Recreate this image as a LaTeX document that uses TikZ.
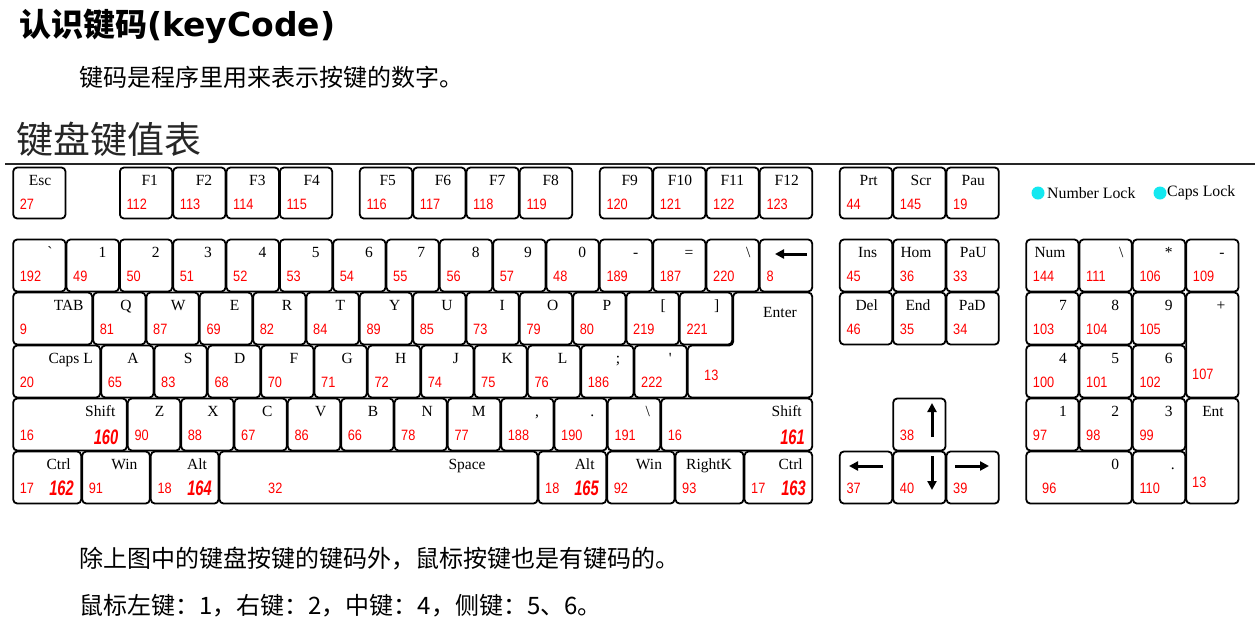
\documentclass[tikz,border=0pt]{standalone}
\usepackage{fontspec}
\setmainfont{Liberation Serif}
\newfontfamily\rawserif{Liberation Serif}
\newfontfamily\codefont[FakeStretch=0.85]{Liberation Sans}
\newfontfamily\boldcode[FakeStretch=0.7]{Liberation Sans}
\newfontfamily\cjk{Noto Sans CJK SC}
\newfontfamily\latb{DejaVu Sans}
\usetikzlibrary{arrows.meta}
\definecolor{ledcyan}{RGB}{20,232,240}
\tikzset{
  keybox/.style={draw=black, line width=1.8pt, rounded corners=4pt, fill=white, inner sep=0pt},
  klabel/.style={inner sep=0pt, text height=10.5pt, text depth=0pt, font=\fontsize{15.5}{16}\selectfont},
  kcode/.style={anchor=west, inner sep=0pt, text height=10.5pt, text depth=0pt, text=red, font=\codefont\fontsize{15}{16}\selectfont},
  kbold/.style={anchor=east, inner sep=0pt, text height=15pt, text depth=0pt, text=red, font=\boldcode\bfseries\itshape\fontsize{21}{22}\selectfont},
  karrow/.style={line width=3pt, -{Triangle[length=9pt, width=9pt]}},
  cjktext/.style={anchor=west, inner sep=0pt, font=\cjk\fontsize{24}{28}\selectfont},
}
% #1 label offset from right edge, #2 name, #3 x1, #4 y1, #5 x2, #6 y2, #7 label, #8 code
\newcommand\kbkey[8][19]{%
  \node[keybox, minimum width={#5-#3-1}, minimum height={#6-#4-1}] (#2) at ({(#3+#5)/2},{(#4+#6)/2}) {};
  \node[klabel] (#2l) at ({#5-#1},{#4+13}) {#7};
  \node[kcode] (#2c) at ({#3+7},{#4+37}) {#8};
}
\begin{document}
\begin{tikzpicture}[x=1pt,y=-1pt]
\useasboundingbox (0,0) rectangle (1255,625);
\fill[white] (0,0) rectangle (1255,625);

% headings
\node[anchor=west, inner sep=0pt, font=\cjk\bfseries\fontsize{32}{36}\selectfont] (title) at (19,26) {认识键码{\latb\bfseries\fontsize{33}{36}\selectfont(keyCode)}};
\node[cjktext] (sub) at (79,77) {键码是程序里用来表示按键的数字。};
\node[anchor=west, inner sep=0pt, font=\cjk\fontsize{37}{40}\selectfont, text=black!85] (head) at (16,139) {键盘键值表};
\coordinate (ruleL) at (5,164);
\coordinate (ruleR) at (1255,164);
\draw[line width=2.5pt, black!85] (ruleL) -- (ruleR);

% function row
\kbkey[26]{esc}{12.7}{167}{66}{219}{Esc}{27}
\kbkey[23]{fa}{119.4}{167}{172.7}{219}{F1}{112}
\kbkey[22]{fb}{172.7}{167}{226}{219}{F2}{113}
\kbkey[22]{fc}{226}{167}{279.4}{219}{F3}{114}
\kbkey[21]{fd}{279.4}{167}{332.7}{219}{F4}{115}
\kbkey[25]{fe}{359.3}{167}{412.7}{219}{F5}{116}
\kbkey[23]{ff}{412.7}{167}{466}{219}{F6}{117}
\kbkey[22]{fg}{466}{167}{519.3}{219}{F7}{118}
\kbkey[22]{fh}{519.3}{167}{572.7}{219}{F8}{119}
\kbkey[23]{fi}{599.3}{167}{652.7}{219}{F9}{120}
\kbkey[26]{fj}{652.7}{167}{706}{219}{F10}{121}
\kbkey[27]{fk}{706}{167}{759.3}{219}{F11}{122}
\kbkey[26]{fl}{759.3}{167}{812.7}{219}{F12}{123}
\kbkey[24]{prt}{839.3}{167}{892.7}{219}{Prt}{44}
\kbkey[25]{scr}{892.7}{167}{946}{219}{Scr}{145}
\kbkey[26]{pau}{946}{167}{999.3}{219}{Pau}{19}

% indicators
\node[circle, fill=ledcyan, inner sep=0pt, minimum size=13pt] (numled) at (1038,193) {};
\node[anchor=west, inner sep=0pt, font=\fontsize{15.8}{16}\selectfont] (numledt) at (1047,193) {Number Lock};
\node[circle, fill=ledcyan, inner sep=0pt, minimum size=13pt] (capled) at (1160,193) {};
\node[anchor=west, inner sep=0pt, font=\fontsize{15.8}{16}\selectfont] (capledt) at (1167,193) {Caps Lock};

% number row
\kbkey[16]{grave}{12.7}{239}{66}{292}{{\rawserif `}}{192}
\kbkey[17]{na}{66}{239}{119.4}{292}{1}{49}
\kbkey[17]{nb}{119.4}{239}{172.7}{292}{2}{50}
\kbkey[18]{nc}{172.7}{239}{226}{292}{3}{51}
\kbkey[17]{nd}{226}{239}{279.4}{292}{4}{52}
\kbkey[17]{ne}{279.4}{239}{332.7}{292}{5}{53}
\kbkey[17]{nf}{332.7}{239}{386}{292}{6}{54}
\kbkey[18]{ng}{386}{239}{439.3}{292}{7}{55}
\kbkey[17]{nh}{439.3}{239}{492.7}{292}{8}{56}
\kbkey[18]{ni}{492.7}{239}{546}{292}{9}{57}
\kbkey[17]{nj}{546}{239}{599.3}{292}{0}{48}
\kbkey[17]{minus}{599.3}{239}{652.7}{292}{-}{189}
\kbkey[17]{equal}{652.7}{239}{706}{292}{=}{187}
\kbkey[11]{bslash}{706}{239}{759.3}{292}{\textbackslash}{220}
\kbkey{bksp}{759.3}{239}{812.7}{292}{}{8}
\coordinate (bkspA) at (807,254);
\coordinate (bkspB) at (775,254);
\draw[karrow] (bkspA) -- (bkspB);

% tab row
\kbkey[24]{tab}{12.7}{292}{92.7}{345}{TAB}{9}
\kbkey[20]{q}{92.7}{292}{146}{345}{Q}{81}
\kbkey[21]{w}{146}{292}{199.3}{345}{W}{87}
\kbkey[18]{e}{199.3}{292}{252.7}{345}{E}{69}
\kbkey[19]{r}{252.7}{292}{306}{345}{R}{82}
\kbkey[19]{t}{306}{292}{359.3}{345}{T}{84}
\kbkey[18]{y}{359.3}{292}{412.7}{345}{Y}{89}
\kbkey[19]{u}{412.7}{292}{466}{345}{U}{85}
\kbkey[17]{i}{466}{292}{519.3}{345}{I}{73}
\kbkey[20]{o}{519.3}{292}{572.7}{345}{O}{79}
\kbkey[19]{p}{572.7}{292}{626}{345}{P}{80}
\kbkey[16]{lbr}{626}{292}{679.3}{345}{[}{219}
\kbkey[16]{rbr}{679.3}{292}{732.7}{345}{]}{221}
\draw[keybox] (733.2,292.5) -- (812.2,292.5) -- (812.2,397.5) -- (687.8,397.5) -- (687.8,345.5) -- (733.2,345.5) -- cycle;
\node[klabel] (enterl) at (780,312) {Enter};
\node[kcode] (enterc) at (704,375) {13};

% caps row
\kbkey[30]{caps}{12.7}{345}{100.7}{398}{Caps L}{20}
\kbkey[21]{a}{100.7}{345}{154}{398}{A}{65}
\kbkey[19]{s}{154}{345}{207.3}{398}{S}{83}
\kbkey[21]{d}{207.3}{345}{260.7}{398}{D}{68}
\kbkey[20]{f}{260.7}{345}{314}{398}{F}{70}
\kbkey[20]{g}{314}{345}{367.3}{398}{G}{71}
\kbkey[20]{h}{367.3}{345}{420.7}{398}{H}{72}
\kbkey[18]{j}{420.7}{345}{474}{398}{J}{74}
\kbkey[20]{k}{474}{345}{527.3}{398}{K}{75}
\kbkey[18]{l}{527.3}{345}{580.7}{398}{L}{76}
\kbkey[16]{semi}{580.7}{345}{634}{398}{;}{186}
\kbkey[17]{quote}{634}{345}{687.3}{398}{{\rawserif '}}{222}

% shift row
\kbkey[27]{lshift}{12.7}{398}{127.3}{451}{Shift}{16}
\node[kbold] (lshiftb) at (118.5,437) {160};
\kbkey[21]{z}{127.3}{398}{180.7}{451}{Z}{90}
\kbkey[21]{x}{180.7}{398}{234}{451}{X}{88}
\kbkey[20]{c}{234}{398}{287.3}{451}{C}{67}
\kbkey[20]{v}{287.3}{398}{340.7}{451}{V}{86}
\kbkey[21]{b}{340.7}{398}{394}{451}{B}{66}
\kbkey[20]{n}{394}{398}{447.3}{451}{N}{78}
\kbkey[22]{m}{447.3}{398}{500.7}{451}{M}{77}
\kbkey[17]{comma}{500.7}{398}{554}{451}{,}{188}
\kbkey[15]{period}{554}{398}{607.3}{451}{.}{190}
\kbkey[13]{slash}{607.3}{398}{660.7}{451}{\textbackslash}{191}
\kbkey[26]{rshift}{660.7}{398}{812.7}{451}{Shift}{16}
\node[kbold] (rshiftb) at (805,437) {161};

% ctrl row
\kbkey[23]{lctrl}{12.7}{451}{81.7}{504}{Ctrl}{17}
\node[kbold] (lctrlb) at (74,488) {162};
\kbkey[26]{lwin}{81.7}{451}{150.3}{504}{Win}{91}
\kbkey[22]{lalt}{150.3}{451}{219}{504}{Alt}{18}
\node[kbold] (laltb) at (212,488) {164};
\kbkey[71]{space}{219}{451}{538}{504}{Space}{}
\node[kcode] (spacec) at (268,488) {32};
\kbkey[22]{ralt}{538}{451}{606.7}{504}{Alt}{18}
\node[kbold] (raltb) at (599,488) {165};
\kbkey[26]{rwin}{606.7}{451}{675}{504}{Win}{92}
\kbkey[35]{menu}{675}{451}{744}{504}{RightK}{93}
\kbkey[22]{rctrl}{744}{451}{812.7}{504}{Ctrl}{17}
\node[kbold] (rctrlb) at (806,488) {163};

% navigation cluster
\kbkey[25]{ins}{839.3}{239}{892.7}{292}{Ins}{45}
\kbkey[30]{home}{892.7}{239}{946}{292}{Hom}{36}
\kbkey[26]{pgup}{946}{239}{999.3}{292}{PaU}{33}
\kbkey[26]{del}{839.3}{292}{892.7}{345}{Del}{46}
\kbkey[28]{end}{892.7}{292}{946}{345}{End}{35}
\kbkey[27]{pgdn}{946}{292}{999.3}{345}{PaD}{34}

% arrow keys
\kbkey{up}{892.7}{398}{946}{451}{}{38}
\kbkey{left}{839.3}{451}{892.7}{504}{}{37}
\kbkey{down}{892.7}{451}{946}{504}{}{40}
\kbkey{right}{946}{451}{999.3}{504}{}{39}
\coordinate (upA) at (932,437);
\coordinate (upB) at (932,403);
\coordinate (dnA) at (932,456);
\coordinate (dnB) at (932,490);
\coordinate (ltA) at (883,466);
\coordinate (ltB) at (849,466);
\coordinate (rtA) at (955,466);
\coordinate (rtB) at (989,466);
\draw[karrow] (upA) -- (upB);
\draw[karrow] (dnA) -- (dnB);
\draw[karrow] (ltA) -- (ltB);
\draw[karrow] (rtA) -- (rtB);

% numeric keypad
\kbkey[29]{numlk}{1025.7}{239}{1079}{292}{Num}{144}
\kbkey[11]{kpdiv}{1079}{239}{1132.3}{292}{\textbackslash}{111}
\kbkey[17]{kpmul}{1132.3}{239}{1185.7}{292}{*}{106}
\kbkey[17]{kpsub}{1185.7}{239}{1239}{292}{-}{109}
\kbkey[16]{kpg}{1025.7}{292}{1079}{345}{7}{103}
\kbkey[17]{kph}{1079}{292}{1132.3}{345}{8}{104}
\kbkey[17]{kpi}{1132.3}{292}{1185.7}{345}{9}{105}
\kbkey[18]{kpadd}{1185.7}{292}{1239}{398}{+}{}
\node[kcode] (kpaddc) at (1192,374) {107};
\kbkey[16]{kpd}{1025.7}{345}{1079}{398}{4}{100}
\kbkey[17]{kpe}{1079}{345}{1132.3}{398}{5}{101}
\kbkey[17]{kpf}{1132.3}{345}{1185.7}{398}{6}{102}
\kbkey[16]{kpa}{1025.7}{398}{1079}{451}{1}{97}
\kbkey[17]{kpb}{1079}{398}{1132.3}{451}{2}{98}
\kbkey[17]{kpc}{1132.3}{398}{1185.7}{451}{3}{99}
\kbkey[26]{kpent}{1185.7}{398}{1239}{504}{Ent}{}
\node[kcode] (kpentc) at (1192,482) {13};
\kbkey[17]{kpz}{1025.7}{451}{1132.3}{504}{0}{}
\node[kcode] (kpzc) at (1042,488) {96};
\kbkey[13]{kpdot}{1132.3}{451}{1185.7}{504}{.}{110}

% footer text
\node[cjktext] (foot1) at (79,559) {除上图中的键盘按键的键码外，鼠标按键也是有键码的。};
\node[cjktext] (foot2) at (79,606) {鼠标左键：1，右键：2，中键：4，侧键：5、6。};
\end{tikzpicture}
\end{document}
